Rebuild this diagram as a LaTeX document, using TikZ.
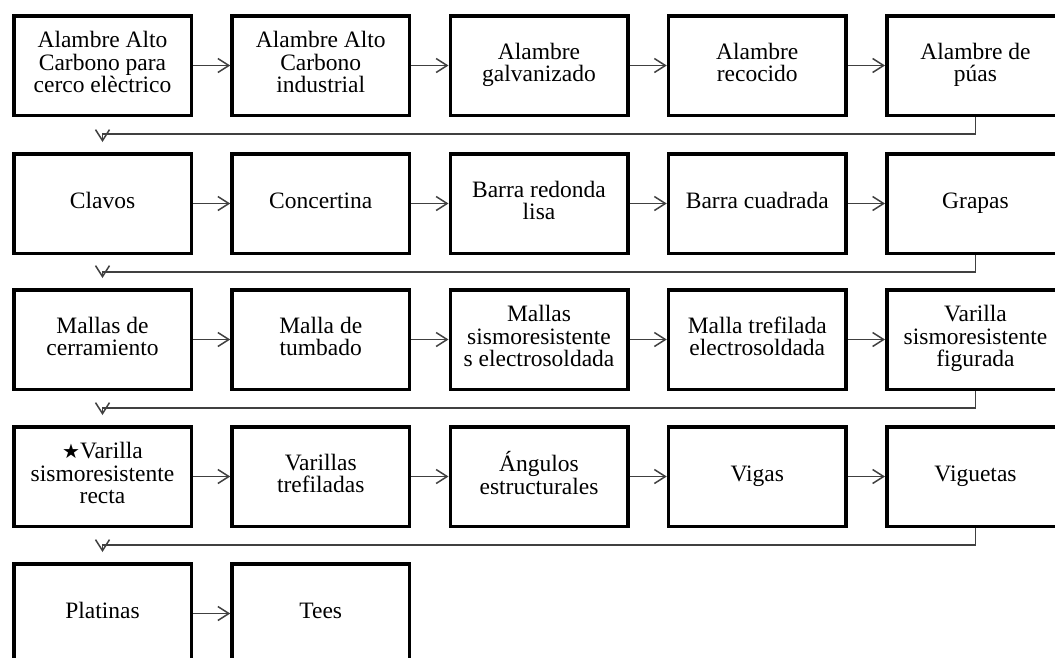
\documentclass[tikz,border=0pt]{standalone}
\usepackage{fontspec}
\setmainfont{Liberation Serif}
\newfontfamily\symfont{DejaVu Sans}
\usetikzlibrary{arrows.meta}
\tikzset{
    box/.style = {draw, line width=3.5pt, minimum width=177.5pt, minimum height=99.5pt,
        inner sep=0pt, align=center, font=\fontsize{23.5}{22.5}\selectfont,
        execute at begin node=\strut, execute at end node=\strut},
    flow/.style = {draw=black!75, line width=1.5pt, -{Straight Barb[length=11pt, width=14pt]}},
    back/.style = {flow, shorten >=10pt}
}

\begin{document}
\begin{tikzpicture}[x=1pt, y=-1pt]
    \useasboundingbox (0,0) rectangle (1055,657);
%row1
    \foreach \c/\txt in {1/{Alambre Alto\\Carbono para\\cerco elèctrico}, 2/{Alambre Alto\\Carbono\\industrial},
        3/{Alambre\\galvanizado}, 4/{Alambre\\recocido}, 5/{Alambre de\\púas}} {
        \node[box] (prod1\c) at (-115.75+\c*218.25, 65.5) {\txt};
    }
%row2
    \foreach \c/\txt in {1/Clavos, 2/Concertina, 3/{Barra redonda\\lisa}, 4/{Barra cuadrada}, 5/Grapas} {
        \node[box] (prod2\c) at (-115.75+\c*218.25, 203.5) {\txt};
    }
%row3
    \foreach \c/\txt in {1/{Mallas de\\cerramiento}, 2/{Malla de\\tumbado}, 3/{Mallas\\sismoresistente\\s electrosoldada},
        4/{Malla trefilada\\electrosoldada}, 5/{Varilla\\sismoresistente\\figurada}} {
        \node[box] (prod3\c) at (-115.75+\c*218.25, 339.5) {\txt};
    }
%row4
    \foreach \c/\txt in {1/{{\symfont\fontsize{20}{20}\selectfont ★}Varilla\\sismoresistente\\recta}, 2/{Varillas\\trefiladas},
        3/{Ángulos\\estructurales}, 4/Vigas, 5/Viguetas} {
        \node[box] (prod4\c) at (-115.75+\c*218.25, 476.5) {\txt};
    }
%row5
    \node[box] (prod51) at (102.5, 613.5) {Platinas};
    \node[box] (prod52) at (320.75, 613.5) {Tees};

    \foreach \r in {1,...,4} {
        \foreach \c/\n in {1/2, 2/3, 3/4, 4/5} {
            \draw[flow] (prod\r\c) -- (prod\r\n);
        }
    }
    \draw[flow] (prod51) -- (prod52);

    \foreach \r/\n in {1/2, 2/3, 3/4, 4/5} {
        \draw[back] (prod\r5.south) -- ++(0,17) -| (prod\n1.north);
    }
\end{tikzpicture}
\end{document}
